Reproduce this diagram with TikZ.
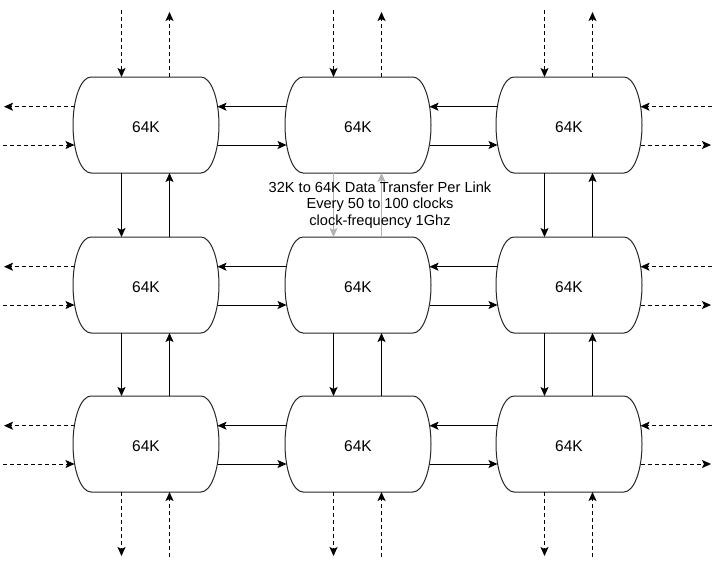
\documentclass[tikz,border=0pt]{standalone}
\usepackage{fontspec}
\setmainfont{Liberation Sans}
\usetikzlibrary{arrows.meta,calc}
\begin{document}
\begin{tikzpicture}[x=1pt,y=-1pt,
  box/.style={minimum width=146pt,minimum height=96pt,inner sep=0pt,
    text height=15pt,text depth=0pt,font=\fontsize{15.5}{18}\selectfont},
  outline/.style={draw=black!85,line width=1pt},
  arr/.style={line width=1pt,-{Stealth[length=9pt,width=8pt,inset=2pt]}},
  dsh/.style={arr,dash pattern=on 4pt off 3pt},
  faint/.style={arr,color=black!30},
  lbl/.style={align=center,font=\fontsize{14.6}{16.3}\selectfont}]
\useasboundingbox (0,0) rectangle (717,576);
% boxes
\foreach \r/\cy in {1/125,2/285,3/444}{
  \foreach \c/\cx in {1/146,2/358,3/569}{
    \node[box] (b\r\c) at (\cx,\cy) {64K};
    \draw[outline] ($(b\r\c)+(-55,-48)$) -- ($(b\r\c)+(55,-48)$)
      arc[start angle=-90,end angle=90,x radius=18,y radius=48]
      -- ($(b\r\c)+(-55,48)$)
      arc[start angle=90,end angle=270,x radius=18,y radius=48] -- cycle;
  }
}
% horizontal links inside the grid
\foreach \r in {1,2,3}{
  \draw[arr] ($(b\r2)+(-71.5,-18.3)$) -- ($(b\r1)+(71.5,-18.3)$);
  \draw[arr] ($(b\r1)+(71.5,20)$) -- ($(b\r2)+(-71.5,20)$);
  \draw[arr] ($(b\r3)+(-71.5,-18.3)$) -- ($(b\r2)+(71.5,-18.3)$);
  \draw[arr] ($(b\r2)+(71.5,20)$) -- ($(b\r3)+(-71.5,20)$);
}
% vertical links inside the grid
\draw[arr] ($(b11)+(-24.5,48)$) -- ($(b21)+(-24.5,-48)$);
\draw[arr] ($(b21)+(23.5,-48)$) -- ($(b11)+(23.5,48)$);
\draw[faint] ($(b12)+(-24.5,48)$) -- ($(b22)+(-24.5,-48)$);
\draw[faint] ($(b22)+(23.5,-48)$) -- ($(b12)+(23.5,48)$);
\draw[arr] ($(b13)+(-24.5,48)$) -- ($(b23)+(-24.5,-48)$);
\draw[arr] ($(b23)+(23.5,-48)$) -- ($(b13)+(23.5,48)$);
\foreach \c in {1,2,3}{
  \draw[arr] ($(b2\c)+(-24.5,48)$) -- ($(b3\c)+(-24.5,-48)$);
  \draw[arr] ($(b3\c)+(23.5,-48)$) -- ($(b2\c)+(23.5,48)$);
}
% outer dashed links
\foreach \c in {1,2,3}{
  \coordinate (tin\c) at ($(b1\c)+(-24.5,-115)$);
  \coordinate (tout\c) at ($(b1\c)+(23.5,-113)$);
  \coordinate (bout\c) at ($(b3\c)+(-24.5,112)$);
  \coordinate (bin\c) at ($(b3\c)+(23.5,113)$);
  \draw[dsh] (tin\c) -- ($(b1\c)+(-24.5,-48)$);
  \draw[dsh] ($(b1\c)+(23.5,-48)$) -- (tout\c);
  \draw[dsh] ($(b3\c)+(-24.5,48)$) -- (bout\c);
  \draw[dsh] (bin\c) -- ($(b3\c)+(23.5,48)$);
}
\foreach \r in {1,2,3}{
  \coordinate (lout\r) at ($(b\r1)+(-142,-18.3)$);
  \coordinate (lin\r) at ($(b\r1)+(-143,20)$);
  \coordinate (rin\r) at ($(b\r3)+(143,-18.3)$);
  \coordinate (rout\r) at ($(b\r3)+(142,20)$);
  \draw[dsh] ($(b\r1)+(-71.5,-18.3)$) -- (lout\r);
  \draw[dsh] (lin\r) -- ($(b\r1)+(-71.5,20)$);
  \draw[dsh] (rin\r) -- ($(b\r3)+(71.5,-18.3)$);
  \draw[dsh] ($(b\r3)+(71.5,20)$) -- (rout\r);
}
% label
\node[lbl] (note) at (380,205) {32K to 64K Data Transfer Per Link\\Every 50 to 100 clocks\\clock-frequency 1Ghz};
\end{tikzpicture}
\end{document}
